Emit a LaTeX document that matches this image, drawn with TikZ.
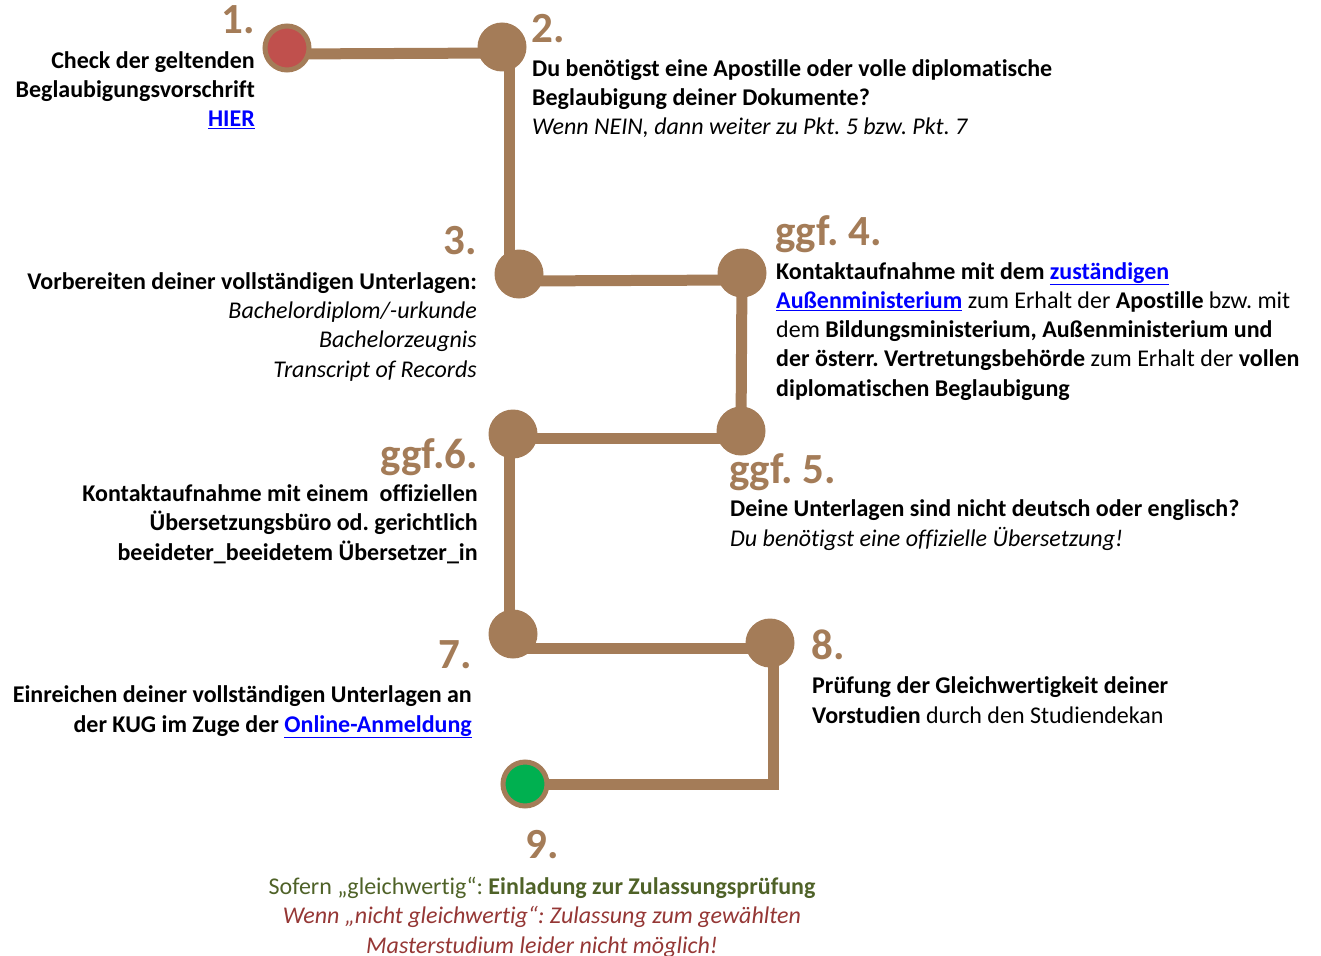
\documentclass[tikz,border=0pt]{standalone}
\usepackage{fontspec}
\setmainfont{Carlito}[Ligatures=NoCommon]
\usepackage{xcolor}
\usetikzlibrary{backgrounds}
\frenchspacing
\definecolor{stepbrown}{RGB}{164,124,88}
\definecolor{startred}{RGB}{192,80,77}
\definecolor{endgreen}{RGB}{0,176,80}
\definecolor{linkblue}{RGB}{0,0,255}
\definecolor{okgreen}{RGB}{79,98,40}
\definecolor{nogored}{RGB}{149,55,53}
\newcommand{\lnk}[1]{\textcolor{linkblue}{\underline{#1}}}
\tikzset{
  dot/.style={ % plain step of the track
    circle, fill=stepbrown, minimum size=49pt, inner sep=0pt
  },
  startdot/.style={ % first step
    circle, fill=startred, draw=stepbrown, line width=5pt,
    minimum size=44pt, inner sep=0pt
  },
  enddot/.style={ % last step
    circle, fill=endgreen, draw=stepbrown, line width=5pt,
    minimum size=44pt, inner sep=0pt
  },
  track/.style={
    draw=stepbrown, line width=11pt, line join=miter
  },
  num/.style={
    text=stepbrown, inner sep=0pt,
    font=\fontsize{43}{48}\selectfont\bfseries
  },
  body/.style={ % anchored at the baseline of its last line
    text=black, inner sep=0pt,
    font=\fontsize{24}{29.2}\selectfont
  }
}
\begin{document}
\begin{tikzpicture}[x=1pt, y=-1pt]
  \useasboundingbox (0,0) rectangle (1321,955);

  % the steps
  \node[startdot] (s1) at (287,48) {};
  \node[dot] (s2) at (502,47) {};
  \node[dot] (s3) at (519,274) {};
  \node[dot] (s4) at (742,273) {};
  \node[dot] (s5) at (741,431) {};
  \node[dot] (s6) at (513,434) {};
  \node[dot] (s7) at (513,634) {};
  \node[dot] (s8) at (770,643) {};
  \node[enddot] (s9) at (525,784) {};

  % the track behind them
  \begin{scope}[on background layer]
    \draw[track] ([yshift=-6pt]s1.center) -- ([yshift=-6pt]s2.center);
    \draw[track] ([xshift=7.5pt]s2.center) -- ([xshift=7.5pt]s2.center |- s3.center);
    \draw[track] ([yshift=-7pt]s3.center) -- ([yshift=-7pt]s4.center);
    \draw[track] (s4.center) -- (s5.center);
    \draw[track] ([yshift=-7pt]s5.center) -- ([yshift=-7pt]s5.center -| s6.center);
    \draw[track] ([xshift=-4pt]s6.center) -- ([xshift=-4pt]s7.center);
    \draw[track] ([yshift=-14pt]s7.center) -- ([yshift=-14pt]s7.center -| s8.center);
    \draw[track] ([xshift=3.5pt]s8.center) |- (s9.center);
  \end{scope}

  % numbers
  \node[num, anchor=base east] (n1) at (255,34) {1.};
  \node[num, anchor=base west] (n2) at (531,43) {2.};
  \node[num, anchor=base east] (n3) at (477,254) {3.};
  \node[num, anchor=base west] (n4) at (775,245) {ggf. 4.};
  \node[num, anchor=base west] (n5) at (729,483) {ggf. 5.};
  \node[num, anchor=base east] (n6) at (478,468) {ggf.6.};
  \node[num, anchor=base east] (n7) at (472,668) {7.};
  \node[num, anchor=base west] (n8) at (811,659) {8.};
  \node[num, anchor=base] (n9) at (542,858) {9.};

  % texts
  \node[body, anchor=base east, align=right] (t1) at (255,127)
    {\bfseries Check der geltenden\\\bfseries Beglaubigungsvorschrift\\\bfseries\lnk{HIER}};
  \node[body, anchor=base west, align=left] (t2) at (532,135)
    {\textbf{Du benötigst eine Apostille oder volle diplomatische}\\
     \textbf{Beglaubigung deiner Dokumente?}\\
     \textit{Wenn NEIN, dann weiter zu Pkt. 5 bzw. Pkt. 7}};
  \node[body, anchor=base east, align=right] (t3) at (477,377)
    {\textbf{Vorbereiten deiner vollständigen Unterlagen:}\\
     \textit{Bachelordiplom/-urkunde}\\
     \textit{Bachelorzeugnis}\\
     \textit{Transcript of Records}};
  \node[body, anchor=base west, align=left] (t4) at (776,396)
    {\textbf{Kontaktaufnahme mit dem \lnk{zuständigen}}\\
     \textbf{\lnk{Außenministerium}} zum Erhalt der \textbf{Apostille} bzw. mit\\
     dem \textbf{Bildungsministerium, Außenministerium und}\\
     \textbf{der österr. Vertretungsbehörde} zum Erhalt der \textbf{vollen}\\
     \textbf{diplomatischen Beglaubigung}};
  \node[body, anchor=base west, align=left] (t5) at (730,546)
    {\textbf{Deine Unterlagen sind nicht deutsch oder englisch?}\\
     \textit{Du benötigst eine offizielle Übersetzung!}};
  \node[body, anchor=base east, align=right] (t6) at (478,560)
    {\textbf{Kontaktaufnahme mit einem~~offiziellen}\\
     \textbf{Übersetzungsbüro od. gerichtlich}\\
     \textbf{beeideter\_beeidetem Übersetzer\_in}};
  \node[body, anchor=base east, align=right] (t7) at (472,732)
    {\textbf{Einreichen deiner vollständigen Unterlagen an}\\
     \textbf{der KUG im Zuge der \lnk{Online-Anmeldung}}};
  \node[body, anchor=base west, align=left] (t8) at (812,723)
    {\textbf{Prüfung der Gleichwertigkeit deiner}\\
     \textbf{Vorstudien} durch den Studiendekan};
  \node[body, anchor=base, align=center] (t9) at (542,953)
    {\textcolor{okgreen}{Sofern „gleichwertig“: \textbf{Einladung zur Zulassungsprüfung}}\\
     \textcolor{nogored}{\itshape Wenn „nicht gleichwertig“: Zulassung zum gewählten}\\
     \textcolor{nogored}{\itshape Masterstudium leider nicht möglich!}};
\end{tikzpicture}
\end{document}
